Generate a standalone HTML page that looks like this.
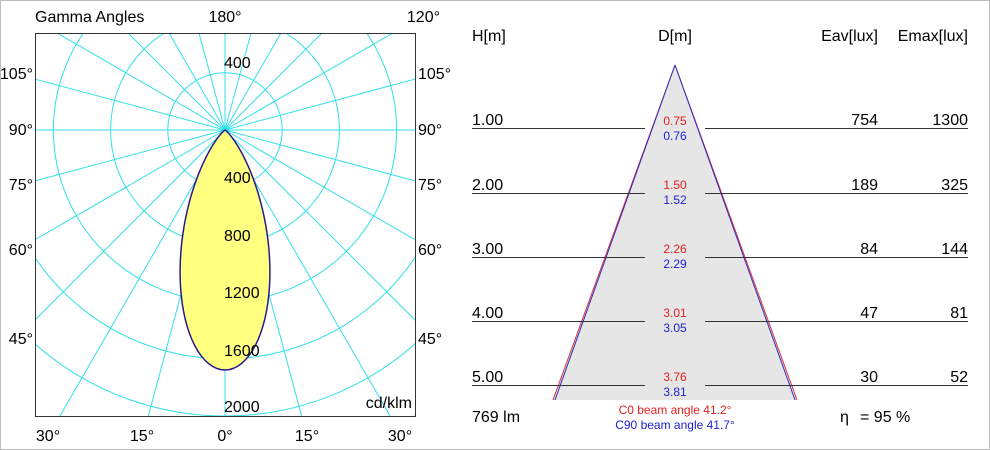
<!DOCTYPE html>
<html><head><meta charset="utf-8"><style>
html,body{margin:0;padding:0;background:#fff;width:990px;height:450px;overflow:hidden}
svg{display:block}
text{font-family:"Liberation Sans",sans-serif}
</style></head><body>
<svg id="s" width="990" height="450" xmlns="http://www.w3.org/2000/svg">
<rect x="0.5" y="0.5" width="989" height="449" fill="#fff" stroke="#bbb"/>
<defs><clipPath id="c"><rect x="35" y="33" width="380" height="383"/></clipPath></defs>
<g id="grid" clip-path="url(#c)" stroke="#33e0e8" stroke-width="1" fill="none"></g>
<path id="curve" fill="#ffff80" stroke="#2a1a8a" stroke-width="1.5"/>
<rect x="35.5" y="33.5" width="380" height="383" fill="none" stroke="#333"/>
<g font-size="16" fill="#000">
<text x="35" y="22">Gamma Angles</text>
<text x="225" y="22" text-anchor="middle">180°</text>
<text x="440" y="22" text-anchor="end">120°</text>
<text x="224" y="68">400</text>
<text x="224" y="183">400</text>
<text x="224" y="241">800</text>
<text x="224" y="298">1200</text>
<text x="224" y="356">1600</text>
<text x="224" y="412">2000</text>
<text x="412" y="408" text-anchor="end">cd/klm</text>
<text x="33" y="79" text-anchor="end">105°</text>
<text x="33" y="135" text-anchor="end">90°</text>
<text x="33" y="190" text-anchor="end">75°</text>
<text x="33" y="255" text-anchor="end">60°</text>
<text x="33" y="344" text-anchor="end">45°</text>
<text x="418" y="79">105°</text>
<text x="418" y="135">90°</text>
<text x="418" y="190">75°</text>
<text x="418" y="255">60°</text>
<text x="418" y="344">45°</text>
<text x="48" y="441" text-anchor="middle">30°</text>
<text x="142" y="441" text-anchor="middle">15°</text>
<text x="225" y="441" text-anchor="middle">0°</text>
<text x="307" y="441" text-anchor="middle">15°</text>
<text x="400" y="441" text-anchor="middle">30°</text>
</g>
<polygon points="675,65 553,400 797,400" fill="#e6e6e6"/>
<line x1="675" y1="65" x2="553" y2="400" stroke="#e03040" stroke-width="1"/>
<line x1="675" y1="65" x2="555" y2="400" stroke="#3030c0" stroke-width="1"/>
<line x1="675" y1="65" x2="797" y2="400" stroke="#e03040" stroke-width="1"/>
<line x1="675" y1="65" x2="795" y2="400" stroke="#3030c0" stroke-width="1"/>
<g stroke="#333" stroke-width="1">
<line x1="472" y1="128.5" x2="645" y2="128.5"/><line x1="705" y1="128.5" x2="968" y2="128.5"/>
<line x1="472" y1="193.5" x2="645" y2="193.5"/><line x1="705" y1="193.5" x2="968" y2="193.5"/>
<line x1="472" y1="257.5" x2="645" y2="257.5"/><line x1="705" y1="257.5" x2="968" y2="257.5"/>
<line x1="472" y1="321.5" x2="645" y2="321.5"/><line x1="705" y1="321.5" x2="968" y2="321.5"/>
<line x1="472" y1="385.5" x2="645" y2="385.5"/><line x1="705" y1="385.5" x2="968" y2="385.5"/>
</g>
<g font-size="16" fill="#000">
<text x="472" y="41">H[m]</text>
<text x="675" y="41" text-anchor="middle">D[m]</text>
<text x="878" y="41" text-anchor="end">Eav[lux]</text>
<text x="968" y="41" text-anchor="end">Emax[lux]</text>
<text x="472" y="125">1.00</text><text x="878" y="125" text-anchor="end">754</text><text x="968" y="125" text-anchor="end">1300</text>
<text x="472" y="190">2.00</text><text x="878" y="190" text-anchor="end">189</text><text x="968" y="190" text-anchor="end">325</text>
<text x="472" y="254">3.00</text><text x="878" y="254" text-anchor="end">84</text><text x="968" y="254" text-anchor="end">144</text>
<text x="472" y="318">4.00</text><text x="878" y="318" text-anchor="end">47</text><text x="968" y="318" text-anchor="end">81</text>
<text x="472" y="382">5.00</text><text x="878" y="382" text-anchor="end">30</text><text x="968" y="382" text-anchor="end">52</text>
<text x="472" y="422">769 lm</text>
<text x="840" y="422">η</text><text x="860" y="422">= 95 %</text>
</g>
<g font-size="12" text-anchor="middle">
<text x="675" y="125" fill="#e02020">0.75</text><text x="675" y="140" fill="#2020d0">0.76</text>
<text x="675" y="189" fill="#e02020">1.50</text><text x="675" y="204" fill="#2020d0">1.52</text>
<text x="675" y="253" fill="#e02020">2.26</text><text x="675" y="268" fill="#2020d0">2.29</text>
<text x="675" y="317" fill="#e02020">3.01</text><text x="675" y="332" fill="#2020d0">3.05</text>
<text x="675" y="381" fill="#e02020">3.76</text><text x="675" y="396" fill="#2020d0">3.81</text>
<text x="675" y="414" fill="#e02020">C0  beam angle 41.2°</text>
<text x="675" y="429" fill="#2020d0">C90 beam angle 41.7°</text>
</g>
</svg>
<script>
var ns="http://www.w3.org/2000/svg",g=document.getElementById("grid"),cx=225,cy=130;
for(var i=1;i<=7;i++){var c=document.createElementNS(ns,"circle");c.setAttribute("cx",cx);c.setAttribute("cy",cy);c.setAttribute("r",57.2*i);g.appendChild(c);}
for(var a=0;a<360;a+=15){var r=a*Math.PI/180,l=document.createElementNS(ns,"line");l.setAttribute("x1",cx);l.setAttribute("y1",cy);l.setAttribute("x2",cx+600*Math.sin(r));l.setAttribute("y2",cy+600*Math.cos(r));g.appendChild(l);}
var d="M"+cx+","+cy;
for(var t=-90;t<=90;t+=1){var r=t*Math.PI/180,R=240*Math.pow(Math.cos(r),10);d+=" L"+(cx+R*Math.sin(r)).toFixed(2)+","+(cy+R*Math.cos(r)).toFixed(2);}
document.getElementById("curve").setAttribute("d",d+"Z");
</script>
</body></html>
